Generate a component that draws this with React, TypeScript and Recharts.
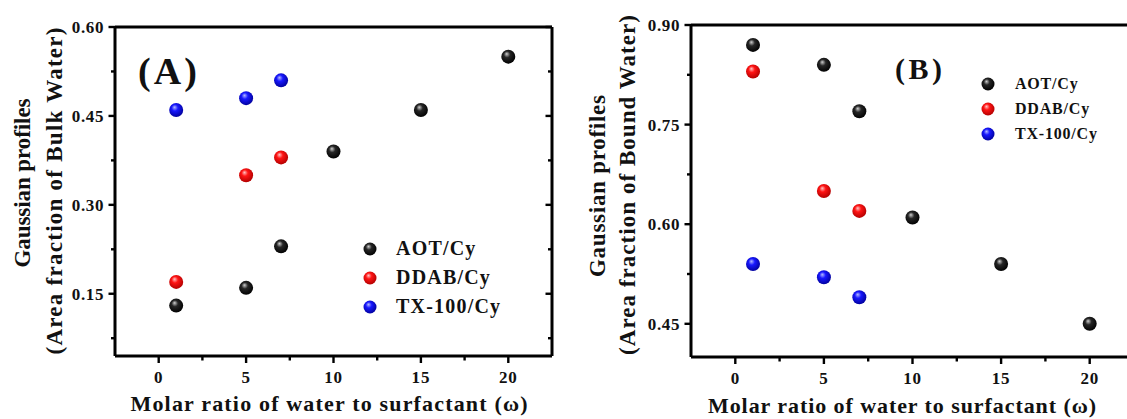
import React from "react";
import { ScatterChart, Scatter, XAxis, YAxis, Legend } from "recharts";

const FONT = '"Liberation Serif", "Times New Roman", serif';

// omega values (x)
const omegaAll = [1, 5, 7, 10, 15, 20];
const omegaShort = [1, 5, 7];

// panel A: area fraction of bulk water
const bulkAot = [0.13, 0.16, 0.23, 0.39, 0.46, 0.55];
const bulkDdab = [0.17, 0.35, 0.38];
const bulkTx = [0.46, 0.48, 0.51];

// panel B: area fraction of bound water
const boundAot = [0.87, 0.84, 0.77, 0.61, 0.54, 0.45];
const boundDdab = [0.83, 0.65, 0.62];
const boundTx = [0.54, 0.52, 0.49];

const seriesNames = ["AOT/Cy", "DDAB/Cy", "TX-100/Cy"];

const xMajor = [0, 5, 10, 15, 20];
const xMinor = [2.5, 7.5, 12.5, 17.5];
const bulkMajor = [0.15, 0.3, 0.45, 0.6];
const bulkMinor = [0.075, 0.225, 0.375, 0.525];
const boundMajor = [0.45, 0.6, 0.75, 0.9];
const boundMinor = [0.525, 0.675, 0.825];

const xTitle = "Molar ratio of water to surfactant (\u03c9)";

const SPHERES: Record<string, [string, string, string]> = {
  black: ["#cfcfcf", "#262626", "#000000"],
  red: ["#ffc4c4", "#ff1414", "#b00000"],
  blue: ["#b4baff", "#1818ff", "#00009a"],
};

const toPoints = (xs: number[], ys: number[]) => xs.map((x, i) => ({ x, y: ys[i] }));

const boldText = {
  fontFamily: FONT,
  fontWeight: 700,
  fill: "#111",
};

// bottom ticks point out (down), top ticks point in (down)
function makeXTick(side: "bottom" | "top") {
  return (props: any) => {
    const { x, y, payload } = props;
    const major = xMajor.includes(payload.value);
    const len = major ? 7 : 4.5;
    return (
      <g>
        <line x1={x} y1={y} x2={x} y2={y + len} stroke="#000" strokeWidth={2.4} />
        {side === "bottom" && major && (
          <text x={x} y={y + 27} textAnchor="middle" fontSize={17} letterSpacing={0.8} style={boldText}>
            {payload.value}
          </text>
        )}
      </g>
    );
  };
}

// left ticks point out (left), right ticks point in (left)
function makeYTick(side: "left" | "right", majors: number[]) {
  return (props: any) => {
    const { x, y, payload } = props;
    const major = majors.includes(payload.value);
    const len = major ? 6.5 : 4;
    return (
      <g>
        <line x1={x} y1={y} x2={x - len} y2={y} stroke="#000" strokeWidth={2.4} />
        {side === "left" && major && (
          <text x={x - 11} y={y} dy="0.35em" textAnchor="end" fontSize={17} letterSpacing={0.6} style={boldText}>
            {payload.value.toFixed(2)}
          </text>
        )}
      </g>
    );
  };
}

type PanelProps = {
  prefix: string;
  width: number;
  margin: { top: number; right: number; bottom: number; left: number };
  yDomain: [number, number];
  yMajor: number[];
  yMinor: number[];
  aot: number[];
  ddab: number[];
  tx: number[];
  letter: string;
  letterPos: { x: number; y: number; size: number; len: number };
  yTitle: [string, string];
  yTitlePos: { x1: number; x2: number; y1: number; y2: number; len1: number; len2: number };
  xTitlePos: { x: number; y: number; len: number };
  legendPos: { left: number; top: number; row: number; size: number; gap: number; spacing: number };
};

function Panel(p: PanelProps) {
  const xTicks = [...xMajor, ...xMinor].sort((a, b) => a - b);
  const yTicks = [...p.yMajor, ...p.yMinor].sort((a, b) => a - b);
  const grads = ["black", "red", "blue"];
  const data = [toPoints(omegaAll, p.aot), toPoints(omegaShort, p.ddab), toPoints(omegaShort, p.tx)];

  const renderLegend = (props: any) => (
    <div style={{ fontFamily: FONT, fontWeight: 700, color: "#111" }}>
      {(props.payload || []).map((entry: any) => (
        <div
          key={entry.value}
          style={{ display: "flex", alignItems: "center", height: p.legendPos.row, fontSize: p.legendPos.size, letterSpacing: p.legendPos.spacing }}
        >
          <svg width={14} height={14} style={{ marginRight: p.legendPos.gap }}>
            <circle cx={7} cy={7} r={6.5} fill={entry.color} />
          </svg>
          <span>{entry.value}</span>
        </div>
      ))}
    </div>
  );

  const axisLine = { stroke: "#000", strokeWidth: 3 };

  return (
    <ScatterChart width={p.width} height={419} margin={p.margin}>
      <defs>
        {grads.map((g) => (
          <radialGradient key={g} id={`${p.prefix}-${g}`} cx="0.45" cy="0.42" r="0.6" fx="0.38" fy="0.3">
            <stop offset="0%" stopColor={SPHERES[g][0]} />
            <stop offset="38%" stopColor={SPHERES[g][1]} />
            <stop offset="100%" stopColor={SPHERES[g][2]} />
          </radialGradient>
        ))}
      </defs>
      <XAxis
        xAxisId="bottom"
        type="number"
        dataKey="x"
        domain={[-2.5, 22.5]}
        allowDataOverflow
        ticks={xTicks}
        interval={0}
        height={1}
        tickSize={0}
        tickMargin={0}
        tickLine={false}
        axisLine={axisLine}
        tick={makeXTick("bottom")}
      />
      <XAxis
        xAxisId="top"
        orientation="top"
        type="number"
        domain={[-2.5, 22.5]}
        allowDataOverflow
        ticks={xTicks}
        interval={0}
        height={1}
        tickSize={0}
        tickMargin={0}
        tickLine={false}
        axisLine={axisLine}
        tick={makeXTick("top")}
      />
      <YAxis
        yAxisId="left"
        type="number"
        dataKey="y"
        domain={p.yDomain}
        allowDataOverflow
        ticks={yTicks}
        interval={0}
        width={1}
        tickSize={0}
        tickMargin={0}
        tickLine={false}
        axisLine={axisLine}
        tick={makeYTick("left", p.yMajor)}
      />
      <YAxis
        yAxisId="right"
        orientation="right"
        type="number"
        domain={p.yDomain}
        allowDataOverflow
        ticks={yTicks}
        interval={0}
        width={1}
        tickSize={0}
        tickMargin={0}
        tickLine={false}
        axisLine={axisLine}
        tick={makeYTick("right", p.yMajor)}
      />
      {data.map((d, i) => (
        <Scatter
          key={seriesNames[i]}
          name={seriesNames[i]}
          data={d}
          xAxisId="bottom"
          yAxisId="left"
          fill={`url(#${p.prefix}-${grads[i]})`}
          isAnimationActive={false}
          shape={(s: any) => <circle cx={s.cx} cy={s.cy} r={7} fill={s.fill} />}
        />
      ))}
      <Legend
        layout="vertical"
        align="center"
        verticalAlign="middle"
        content={renderLegend}
        wrapperStyle={{ left: p.legendPos.left, top: p.legendPos.top, width: "auto" }}
      />
      <text x={p.letterPos.x} y={p.letterPos.y} fontSize={p.letterPos.size} textLength={p.letterPos.len} style={boldText}>
        {p.letter}
      </text>
      <text
        transform={`translate(${p.yTitlePos.x1},${p.yTitlePos.y1}) rotate(-90)`}
        textAnchor="middle"
        dominantBaseline="central"
        fontSize={23}
        textLength={p.yTitlePos.len1}
        style={boldText}
      >
        {p.yTitle[0]}
      </text>
      <text
        transform={`translate(${p.yTitlePos.x2},${p.yTitlePos.y2}) rotate(-90)`}
        textAnchor="middle"
        dominantBaseline="central"
        fontSize={23}
        textLength={p.yTitlePos.len2}
        style={boldText}
      >
        {p.yTitle[1]}
      </text>
      <text
        x={p.xTitlePos.x}
        y={p.xTitlePos.y}
        textAnchor="middle"
        fontSize={22}
        textLength={p.xTitlePos.len}
        style={boldText}
      >
        {xTitle}
      </text>
    </ScatterChart>
  );
}

export default function App() {
  return (
    <div style={{ position: "absolute", left: 0, top: 0, width: 1127, height: 419, background: "#fff", overflow: "hidden" }}>
      <div style={{ position: "absolute", left: 0, top: 0 }}>
        <Panel
          prefix="bulk"
          width={560}
          margin={{ top: 26, right: 7, bottom: 62, left: 114 }}
          yDomain={[0.045, 0.6]}
          yMajor={bulkMajor}
          yMinor={bulkMinor}
          aot={bulkAot}
          ddab={bulkDdab}
          tx={bulkTx}
          letter="(A)"
          letterPos={{ x: 138, y: 84, size: 38, len: 59 }}
          yTitle={["Gaussian profiles", "(Area fraction of Bulk Water)"]}
          yTitlePos={{ x1: 22, x2: 54, y1: 183, y2: 191, len1: 169, len2: 327 }}
          xTitlePos={{ x: 329, y: 411, len: 397 }}
          legendPos={{ left: 363, top: 234, row: 29, size: 20, gap: 19, spacing: 1.2 }}
        />
      </div>
      <div style={{ position: "absolute", left: 560, top: 0, width: 567, height: 419, overflow: "hidden" }}>
        <Panel
          prefix="bound"
          width={574}
          margin={{ top: 24, right: -1, bottom: 61, left: 130 }}
          yDomain={[0.4, 0.9]}
          yMajor={boundMajor}
          yMinor={boundMinor}
          aot={boundAot}
          ddab={boundDdab}
          tx={boundTx}
          letter="(B)"
          letterPos={{ x: 335, y: 79, size: 30, len: 47 }}
          yTitle={["Gaussian profiles", "(Area fraction of Bound Water)"]}
          yTitlePos={{ x1: 37, x2: 67, y1: 186, y2: 185, len1: 182, len2: 340 }}
          xTitlePos={{ x: 342, y: 413, len: 388 }}
          legendPos={{ left: 421, top: 71, row: 25, size: 16, gap: 20, spacing: 0.8 }}
        />
      </div>
    </div>
  );
}
